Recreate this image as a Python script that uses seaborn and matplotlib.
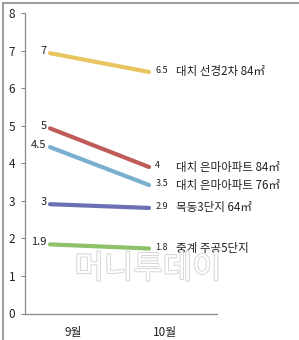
import matplotlib
matplotlib.use("Agg")
import matplotlib.pyplot as plt
import matplotlib.patheffects as pe
from matplotlib.lines import Line2D
import seaborn as sns
import pandas as pd

months = ["9월", "10월"]
series = ["대치 선경2차 84㎡", "대치 은마아파트 84㎡", "대치 은마아파트 76㎡", "목동3단지 64㎡", "중계 주공5단지"]
sep_values = [6.93, 4.93, 4.43, 2.91, 1.84]
oct_values = [6.43, 3.90, 3.42, 2.81, 1.73]
sep_labels = ["7", "5", "4.5", "3", "1.9"]
oct_labels = ["6.5", "4", "3.5", "2.9", "1.8"]
colors = ["#E8C55E", "#BF5C59", "#79B0D0", "#6B70B4", "#8DC26A"]
y_ticks = [0, 1, 2, 3, 4, 5, 6, 7, 8]
watermark = "머니투데이"

sns.set_theme(style="white")
plt.rcParams["font.family"] = ["Noto Sans CJK KR", "DejaVu Sans"]

rows = []
for s, a, b in zip(series, sep_values, oct_values):
    rows.append({"pos": 0, "value": a, "series": s})
    rows.append({"pos": 1, "value": b, "series": s})
df = pd.DataFrame(rows)

W, H = 299, 340
fig = plt.figure(figsize=(W / 100, H / 100), dpi=100)
fig.patch.set_facecolor("white")
ax = fig.add_axes([25 / W, (H - 313.5) / H, (217 - 25) / W, (313.5 - 13) / H])

# watermark
fig.text(148 / W, 1 - 269 / H, watermark, fontsize=23, color="white",
         ha="center", va="center", zorder=0, fontweight="light",
         path_effects=[pe.withStroke(linewidth=1.4, foreground="#d6d6d6")])

sns.lineplot(data=df, x="pos", y="value", hue="series", palette=colors,
             hue_order=series, linewidth=3, legend=False, ax=ax, zorder=3)

ax.set_xlim(-25 / 99, 1 + 68 / 99)
ax.set_ylim(0, 8)
ax.set_yticks(y_ticks)
ax.set_yticklabels([str(t) for t in y_ticks], fontsize=8.5, color="#222222")
ax.set_xticks([0.23, 1.16])
ax.set_xticklabels(months, fontsize=8.5, color="#222222")
ax.tick_params(axis="x", length=0, pad=9)
ax.tick_params(axis="y", length=3, width=0.8, color="#888888", direction="out", pad=4, left=True)
ax.set_xlabel("")
ax.set_ylabel("")
for side in ["top", "right"]:
    ax.spines[side].set_visible(False)
for side in ["left", "bottom"]:
    ax.spines[side].set_color("#8a8a8a")
    ax.spines[side].set_linewidth(0.9)
ax.set_facecolor("none")

for s, a, b, la, lb in zip(series, sep_values, oct_values, sep_labels, oct_labels):
    ax.annotate(la, xy=(0, a), xytext=(-2.5, 1.5), textcoords="offset points",
                ha="right", va="center", fontsize=8, color="#222222")
    ax.annotate(lb, xy=(1, b), xytext=(4.5, 1), textcoords="offset points",
                ha="left", va="center", fontsize=6.5, color="#222222")
    ax.annotate(s, xy=(1, b), xytext=(19.5, 0), textcoords="offset points",
                ha="left", va="center", fontsize=8.3, color="#222222",
                annotation_clip=False)

# frame (left and top border)
fig.add_artist(Line2D([2.5 / W, 2.5 / W], [0, 1 - 2.5 / H], transform=fig.transFigure,
                      color="#8c8c8c", linewidth=1.2))
fig.add_artist(Line2D([2.5 / W, 1], [1 - 2.5 / H, 1 - 2.5 / H], transform=fig.transFigure,
                      color="#8c8c8c", linewidth=1.2))

fig.savefig("out.png", dpi=100)
